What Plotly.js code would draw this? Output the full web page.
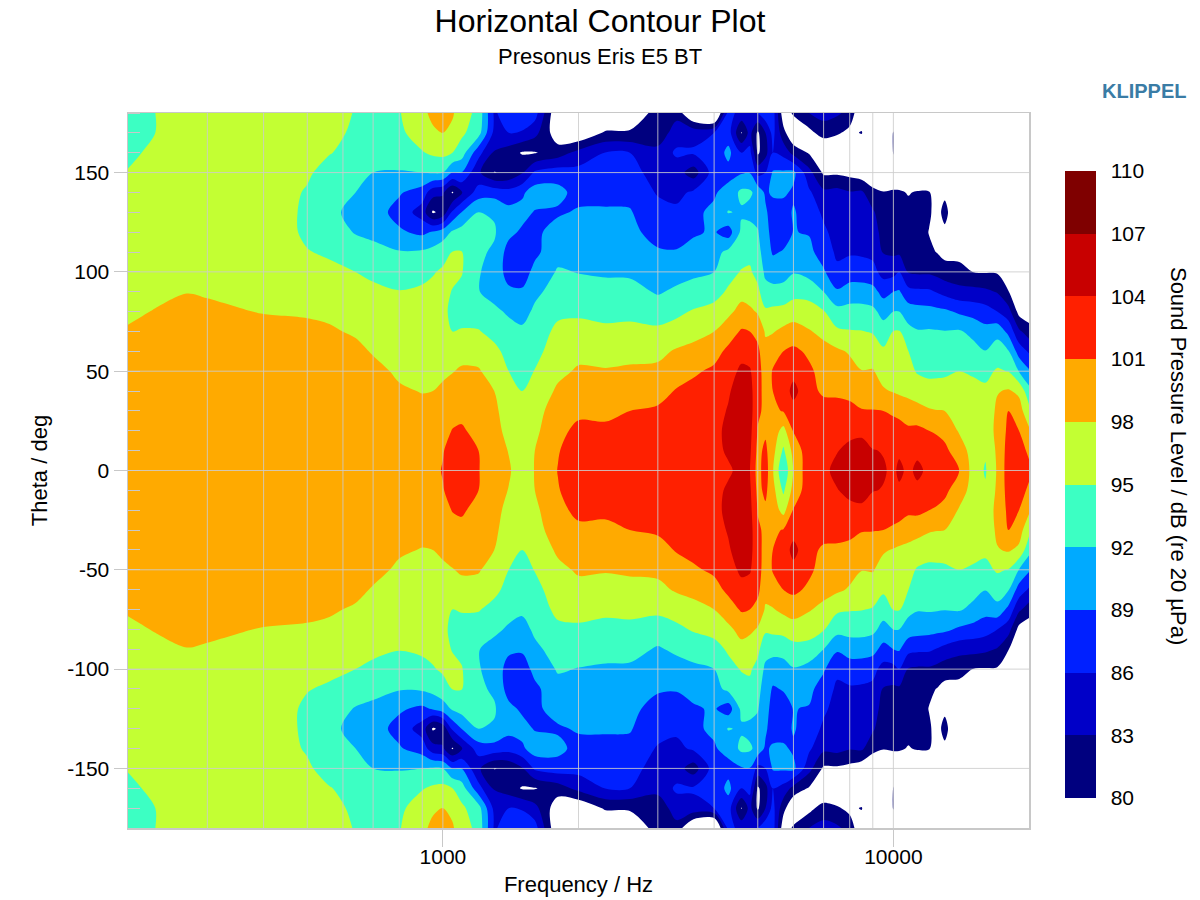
<!DOCTYPE html>
<html>
<head>
<meta charset="utf-8">
<script src="https://cdn.plot.ly/plotly-3.0.1.min.js"></script>
<style>html,body{margin:0;padding:0;background:#fff}#chart{width:1200px;height:900px}</style>
</head>
<body>
<div id="chart"></div>
<script>
const thetaHalf = [0,10,20,30,40,50,60,70,80,90,100,110,120,130,140,150,160,170,180];
const frequencies = [200,230,270,300,400,500,560,640,700,800,900,950,1000,1050,1100,1200,1300,1400,1500,1600,1800,2000,2300,2600,3000,3300,3600,4000,4300,4600,4800,5000,5200,5400,5700,6000,6500,7000,7500,8000,8500,9000,9500,10000,10300,10800,11300,12000,12500,13000,14000,15000,16000,17000,18000,19000,20000];

// SPL in dB at each frequency, one value per entry of thetaHalf
const db200 = [100,100,100,100,100,99.7,99,98.2,97.6,97.2,97,96.8,96.5,96.2,95.7,95.1,94.6,94.4,94.3];
const db230 = [100,100,100,100,100,100,99.5,98.8,98.1,97.5,97.2,97,96.8,96.5,96.2,95.8,95.4,95,95];
const db270 = [100.2,100.2,100.2,100.2,100.2,100.2,99.8,99.2,98.5,97.95,97.5,97.2,97,96.8,96.6,96.4,96.2,96,96];
const db300 = [100.2,100.2,100.2,100.2,100.2,100.2,99.8,99.1,98.4,97.8,97.4,97.1,96.9,96.7,96.5,96.3,96.2,96.1,96];
const db400 = [100.2,100.2,100.2,100.2,100.2,100.2,99.6,98.7,97.9,97.4,97,96.8,96.5,96.4,96.3,96.2,96.1,96,96];
const db500 = [100,100,100,100,100,100,99,98.4,97.8,97,96,95.1,94.6,94.6,94.8,95.3,95.6,95.8,96];
const db560 = [100,100,100,100,100,99.8,99,98.3,97.5,96.5,95.5,94.7,93.5,92.8,93.3,94.2,95.1,95.5,95.7];
const db640 = [100,100,100,100,100,99.5,98.6,97.7,96.8,96,95,93.5,91.8,91,92,93.5,94.3,94.7,94.9];
const db700 = [100,100,100,100,99.6,98.7,97.8,97,96.2,95.4,94.6,93,91.2,90.3,90.7,92,93.6,94.5,94.8];
const db800 = [100,100,100,99.3,98.3,97.6,97,96.4,95.8,95.1,93.8,92.2,89.4,88,89.3,91.8,93.5,94.4,94.8];
const db900 = [100.5,100.2,99.6,98.7,97.9,97.2,96.8,96.3,95.9,95.4,94.3,92.4,88.4,84.5,87.6,92,94.8,96.5,97.4];
const db950 = [100.6,100.3,99.6,98.8,98,97.5,97,96.6,96.2,95.7,94.8,93,89.3,79.6,84.2,92.3,95.5,97.6,98.6];
const db1000 = [101.1,100.9,100.2,99.2,98.3,97.7,97.3,96.2,95.8,95.6,95.4,94,90.5,81,83.4,92,95.8,98,99];
const db1050 = [101.9,101.7,101.1,100.1,98.9,97.9,97.2,95,94.2,94.9,95.5,95.05,92.4,86.5,79.7,89,95,97.4,98.3];
const db1100 = [102.2,102,101.3,100.4,99.4,98.3,97.2,95.2,94,94.3,95.2,95.1,93.2,89,82.8,89,93.5,95.6,96.6];
const db1200 = [101.1,101,100.3,99.6,98.9,98.2,97.1,95.2,93.5,92.1,92.2,92.5,92.6,92,87.5,83.5,87,93.2,94];
const db1300 = [99.5,99.2,98.9,98.6,98,97,95.8,94,92.6,91,90.9,91.6,92.3,91.7,87.8,79.9,82.7,85.2,85.6];
const db1400 = [98.3,97.9,97.2,96.6,95.9,95,94,93,91.6,89.6,87.8,87.8,89.8,90,87.2,80.5,81.5,86,87.5];
const db1500 = [96.6,96.4,96.1,95.8,95,94.2,93.6,92.6,90.8,89.4,87.5,87,88.5,90,88.5,82.7,79.7,85.8,87.5];
const db1600 = [98.1,98,97.4,96.9,96.3,95.1,94,93.2,92.6,91.3,89.9,88.3,88.2,88.8,90.5,86.5,79.8,84,87.3];
const db1800 = [101.1,100.8,100.1,99.5,98.4,97.4,96.7,95.8,94.3,93.3,92.3,91,90.5,88.5,90,87.5,81.5,78,77];
const db2000 = [103,102.7,101.8,100.3,99.4,98.3,97.3,96,94.5,93.2,91.9,91.2,90.5,89.4,87.8,87,84,77,75];
const db2300 = [103,102.7,101.6,100.3,99.4,98.2,97,95.5,94.3,93,91.6,90.9,90.3,89.2,88.5,87.3,86.1,80.5,76];
const db2600 = [103.2,103,102.2,101,99.8,98.5,97,95.5,94.5,93,91.5,89.3,89.7,89.2,88.3,87.3,86,80.5,77];
const db3000 = [103.4,103.2,102.6,101.4,100,98.6,97.3,95.6,93.6,91.7,90.5,89.3,88,87.2,85.7,84.5,84,81,81.5];
const db3300 = [103.5,103.3,103,102,101.2,99.8,98.3,96.3,94.3,92.5,90.9,89.2,87.8,86.6,85.2,84.3,86.5,84.5,82];
const db3600 = [103.7,103.5,103.2,102.5,101.8,100.6,98.9,97,95.3,93,91.5,89.8,88.7,88.5,86.5,81.5,86.4,85,76];
const db4000 = [104,103.8,103.4,103,102.5,101.5,100,98,96,93.9,92,91,89.3,89.5,88.7,87.5,87,86,74];
const db4300 = [103.9,104.1,104.5,104.2,103.7,102.8,101.6,99.7,97.3,95.4,94,92.7,87.5,92.2,90,88,89.8,87.5,87];
const db4600 = [104.2,104.9,105.3,105.5,105.3,104.6,103,101.3,99,97,95.2,93.8,92.7,91.6,92.7,88.7,86,79.8,85];
const db4800 = [104.1,104.6,105,105.3,105,104.3,102.8,101,98.6,96.5,95.4,94.2,93.2,91,92.5,88.9,87,84,86];
const db5000 = [99.8,100.2,100.8,101.5,102,102.3,101.7,100,97.7,95.7,94,93,92.2,91,91,85,79.5,79.5,86];
const db5200 = [102.5,101.6,100.5,100.4,100,99.5,98.8,97.7,95.5,93,91.4,90.5,90,89.5,88.5,86,82,83,88];
const db5400 = [98.2,99,99.6,100.4,101,101.2,99.8,97.8,95.7,93,90.5,88.7,88,87.5,89.5,89.3,86,87,87.5];
const db5700 = [92.3,94.5,97,101.2,102.3,102.5,101,98.7,96,93,90.9,89.2,87.8,87.7,89.5,89.5,85,81,78];
const db6000 = [98.2,99,101.2,102.8,105,103,101.6,99.3,96.6,94,91.8,90.5,89.1,89.3,88.5,89.7,82,77,80.5];
const db6500 = [103,102.8,102.4,102,101.7,101.5,100.5,98.2,96.4,93.8,91,89.8,88.8,87.5,86.5,84,79.7,79,83];
const db7000 = [103.5,103.3,102.8,102,100.6,100,98.9,97.3,95.2,92,89.4,87.5,86.5,85.5,83.7,79.5,76,81.5,84];
const db7500 = [104.6,103.9,103.2,101.8,100.6,99.8,98.5,95.5,93,89.4,86.6,85.5,85,84.6,84,79.5,76,80.5,83.5];
const db8000 = [105.5,104.6,103.4,101.8,100.2,99,97.7,95.2,93,90.5,87.3,85.7,85,84.4,83.2,79,76,79,82];
const db8500 = [105.7,104.9,103.5,101.2,99.4,98.1,96.5,95.1,93,90.5,87.3,85.6,85,84.5,83.5,78,75,80.3,77];
const db9000 = [105.3,104.1,102.8,101.1,99.6,98.2,96.5,94.8,92.7,90,87,85.2,84.3,83.4,81,77,75,75,75];
const db9500 = [104.2,103.9,102.8,101,98.3,96.9,95.5,93.3,91,88,84.9,82.8,82,81.3,80.2,76,74,74,74];
const db10000 = [103.6,103.5,102.6,100.4,97.8,96.9,96,95.1,92,89,85,82.5,82,81.3,80.3,78,80.2,80.3,76];
const db10300 = [104.4,103.7,102.4,100,97.5,96.4,95.5,95.2,92,89.3,86,82.5,82,81.3,80.4,77,75,75,75];
const db10800 = [103.6,103.3,101.7,99,97.4,96,95,92.9,90.5,87,82.7,82,81.7,81,79.8,76,74,74,74];
const db11300 = [104.4,103.6,101.8,98.8,96.9,94.7,93.5,92.2,90.2,86.6,82.5,82,81.5,80.8,80.3,76,74,74,74];
const db12000 = [103.6,103.3,101,98.3,96,94.4,93.3,92.3,90,86.5,82.5,80.5,79.9,80.4,80.3,76,74,74,74];
const db12500 = [102.9,102.4,100.6,98.1,95.9,94.5,93.3,92.2,89.8,85.8,82,79.9,78,79,77,75,74,74,74];
const db13000 = [102.2,101.6,100.2,98,95.9,94.6,93.3,92.1,89.6,85,81.4,79,79.4,80.9,79.4,75,74,74,74];
const db14000 = [101,99.6,97.7,96.8,95.8,95,93.4,92.3,88.5,84,81,79,78,77,76,75,75,75,75];
const db15000 = [97,96.8,96.5,96,95.5,94.8,93,91.3,87.9,84,80,78,77,76,75,75,75,75,75];
const db16000 = [94.7,95.4,96,95.8,95.5,94.3,92.1,90,87.3,83.6,79.8,78,77,76,75,75,75,75,75];
const db17000 = [98.3,98.5,98.9,98.6,97.8,95.3,93.5,91,86,82.8,79.7,77,76,75,75,75,75,75,75];
const db18000 = [102.5,102.2,101.6,101,98.3,94.9,92.2,88.2,84.2,80.2,77,75,75,75,75,75,75,75,75];
const db19000 = [103,102.4,101,99.3,97.4,91.9,87.7,83.6,79,76,75,75,75,75,75,75,75,75,75];
const db20000 = [101.8,100.4,98.5,95.9,93,89.4,85.6,81.5,78,76,75,75,75,75,75,75,75,75,75];

const dbColumns = [db200,db230,db270,db300,db400,db500,db560,db640,db700,db800,db900,db950,db1000,db1050,db1100,db1200,db1300,db1400,db1500,db1600,db1800,db2000,db2300,db2600,db3000,db3300,db3600,db4000,db4300,db4600,db4800,db5000,db5200,db5400,db5700,db6000,db6500,db7000,db7500,db8000,db8500,db9000,db9500,db10000,db10300,db10800,db11300,db12000,db12500,db13000,db14000,db15000,db16000,db17000,db18000,db19000,db20000];

const belowRangeColor = '#ffffff';
const bandColors = ['#00007f','#0000c8','#0020ff','#00aaff','#3cffc3','#c3ff33','#ffaa00','#ff2000','#c80000','#7f0000'];
const colorbarTicks = [80,83,86,89,92,95,98,101,104,107,110];
const thetaTicks = [-150,-100,-50,0,50,100,150];
const freqTicks = [1000,10000];
const freqGrid = [300,400,500,600,700,800,900,1000,2000,3000,4000,5000,6000,7000,8000,9000,10000];

// Build the mirrored grid: -180..180
const thetaAll = thetaHalf.slice(1).reverse().map(t => -t).concat(thetaHalf);
const rowIndex = thetaHalf.slice(1).reverse().concat(thetaHalf).map(t => thetaHalf.indexOf(t));
const z = rowIndex.map(r => dbColumns.map(col => col[r]));

// One colour per band; plotly samples each band at its midpoint, and anything below the first level at 0
const nBands = bandColors.length;
const colorscale = [[0, belowRangeColor], [0.1 / nBands, bandColors[0]]]
  .concat(bandColors.map((c, i) => [(i + 0.5) / nBands, c]))
  .concat([[1, bandColors[nBands - 1]]]);

const gridColor = 'rgba(205,205,205,0.85)';
const shapes = [];
freqGrid.forEach(f => shapes.push({type:'line', xref:'x', yref:'paper', x0:f, x1:f, y0:0, y1:1, layer:'above', line:{color:gridColor, width:1}}));
thetaTicks.forEach(t => shapes.push({type:'line', xref:'paper', yref:'y', x0:0, x1:1, y0:t, y1:t, layer:'above', line:{color:gridColor, width:1}}));

const font = 'Liberation Sans, Arial, sans-serif';
const trace = {
  type:'contour', x:frequencies, y:thetaAll, z:z,
  zmin:80, zmax:110, colorscale:colorscale, autocontour:false,
  contours:{start:80, end:110, size:3, coloring:'fill', showlines:false},
  line:{width:0, smoothing:0.9},
  hoverinfo:'skip',
  colorbar:{
    lenmode:'pixels', len:627, thicknessmode:'pixels', thickness:31,
    x:1.04, xanchor:'left', y:0.4804, yanchor:'middle', xpad:0, ypad:0,
    outlinewidth:0, ticks:'outside', ticklen:11, tickcolor:'rgba(0,0,0,0)', tickmode:'array', tickvals:colorbarTicks, ticktext:colorbarTicks.map(String),
    tickfont:{family:font, size:21, color:'#000'}
  }
};
const layout = {
  width:1200, height:900, paper_bgcolor:'#fff', plot_bgcolor:'#fff',
  margin:{l:128, r:171, t:113, b:72, pad:0},
  font:{family:font, color:'#000'},
  title:{text:'Horizontal Contour Plot', x:0.5, xref:'container', xanchor:'center', y:0.977, yref:'container', yanchor:'middle', font:{family:font, size:32, color:'#000'}},
  xaxis:{type:'log', range:[Math.log10(200), Math.log10(20000)], tickmode:'array', tickvals:freqTicks, ticktext:freqTicks.map(String),
    showgrid:false, zeroline:false, showline:true, mirror:true, linecolor:'#c8c8c8', linewidth:1.5, ticks:'outside', ticklen:17, tickcolor:'#c8c8c8', ticklabelstandoff:-8, tickfont:{family:font, size:21},
    title:{text:'Frequency / Hz', standoff:10, font:{family:font, size:22}}},
  yaxis:{range:[-180,180], tickmode:'array', tickvals:thetaTicks, ticktext:thetaTicks.map(t => t < 0 ? '-' + Math.abs(t) : String(t)),
    showgrid:false, zeroline:false, showline:true, mirror:true, linecolor:'#c8c8c8', linewidth:1.5,
    ticks:'outside', ticklen:13, tickcolor:'#c8c8c8', tickfont:{family:font, size:21},
    minor:{ticks:'inside', ticklen:12, tickcolor:'#c8c8c8', dtick:10, showgrid:false},
    title:{text:'Theta / deg', standoff:13, font:{family:font, size:22}}},
  shapes:shapes,
  annotations:[
    {text:'Presonus Eris E5 BT', xref:'paper', yref:'paper', x:0.5239, y:1.0797, xanchor:'center', yanchor:'middle', showarrow:false, font:{family:font, size:22, color:'#000'}},
    {text:'<b>KLIPPEL</b>', xref:'paper', yref:'paper', x:1.177, y:1.0307, xanchor:'right', yanchor:'middle', showarrow:false, font:{family:font, size:20, color:'#3a7ca5'}},
    {text:'Sound Pressure Level / dB (re 20 µPa)', xref:'paper', yref:'paper', x:1.1654, y:0.5203, xanchor:'center', yanchor:'middle', textangle:90, showarrow:false, font:{family:font, size:22, color:'#000'}}
  ]
};
Plotly.newPlot('chart', [trace], layout, {displayModeBar:false, staticPlot:true});
</script>
</body>
</html>
